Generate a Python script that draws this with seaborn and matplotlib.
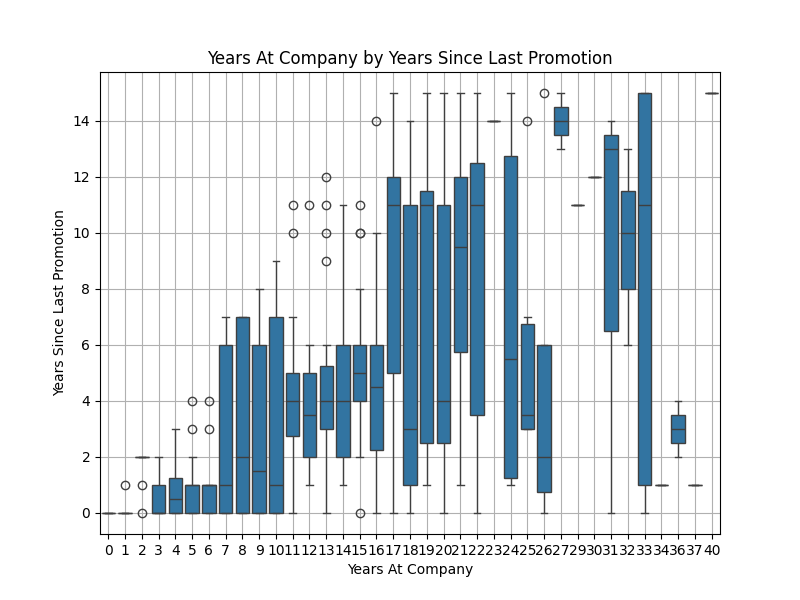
import numpy as np
import pandas as pd
import seaborn as sns
from matplotlib import pyplot as plt

# Years at company -> years since last promotion
years = [0, 1, 2, 3, 4, 5, 6, 7, 8, 9, 10, 11, 12, 13, 14, 15, 16, 17, 18, 19,
         20, 21, 22, 23, 24, 25, 26, 27, 29, 30, 31, 32, 33, 34, 36, 37, 40]
promo = [
    [0, 0, 0],
    [0]*10 + [1],
    [2]*10 + [0, 1],
    [0, 0, 0, 0, 1, 1, 2],
    [0, 0, 0, 0, 1, 1, 2, 3],
    [0]*6 + [1]*5 + [2, 3, 4],
    [0, 0, 0, 0, 1, 1, 1, 3, 4],
    [0, 0, 0, 1, 6, 6, 7],
    [0, 0, 0, 2, 7, 7, 7],
    [0, 0, 0, 1, 2, 6, 6, 8],
    [0, 0, 0, 1, 7, 7, 9],
    [0, 2, 2, 2, 3, 3, 4, 4, 4, 5, 5, 5, 5, 7, 10, 11],
    [1, 2, 2, 2, 3, 3, 4, 5, 5, 5, 6, 11],
    [0, 3, 3, 3, 3, 3, 4, 4, 4, 4, 4, 5, 5, 5, 5, 6, 9, 10, 11, 12],
    [1, 2, 2, 4, 6, 6, 11],
    [0, 2, 4, 4, 4, 4, 5, 5, 5, 6, 6, 6, 6, 8, 10, 10, 11],
    [0, 1, 2, 3, 4, 5, 6, 6, 10, 14],
    [0, 5, 5, 11, 12, 12, 15],
    [0, 1, 1, 3, 11, 11, 14],
    [1, 2, 3, 11, 11, 12, 15],
    [0, 2, 3, 4, 11, 11, 15],
    [1, 5, 6, 9, 10, 12, 12, 15],
    [0, 3, 4, 11, 12, 13, 15],
    [14, 14],
    [1, 1, 1, 2, 5, 6, 12, 13, 13, 15],
    [3, 3, 3, 3, 3, 4, 6, 7, 7, 14],
    [0, 0, 1, 2, 2, 6, 6, 15],
    [13, 13, 14, 14, 14, 15, 15],
    [11, 11],
    [12, 12],
    [0, 6, 7, 13, 13, 14, 14],
    [6, 8, 8, 10, 11, 12, 13],
    [0, 1, 1, 11, 15, 15, 15],
    [1, 1],
    [2, 2, 3, 3, 3, 4, 4],
    [1, 1],
    [15, 15],
]

rows = [(y, v) for y, vals in zip(years, promo) for v in vals]
df = pd.DataFrame(rows, columns=['YearsAtCompany', 'YearsSinceLastPromotion'])

fig = plt.figure(figsize=(8, 6), dpi=100)
ax = sns.boxplot(data=df, x='YearsAtCompany', y='YearsSinceLastPromotion')
plt.title('Years At Company by Years Since Last Promotion')
plt.xlabel('Years At Company')
plt.ylabel('Years Since Last Promotion')
plt.grid(True)
plt.savefig('out.png')
